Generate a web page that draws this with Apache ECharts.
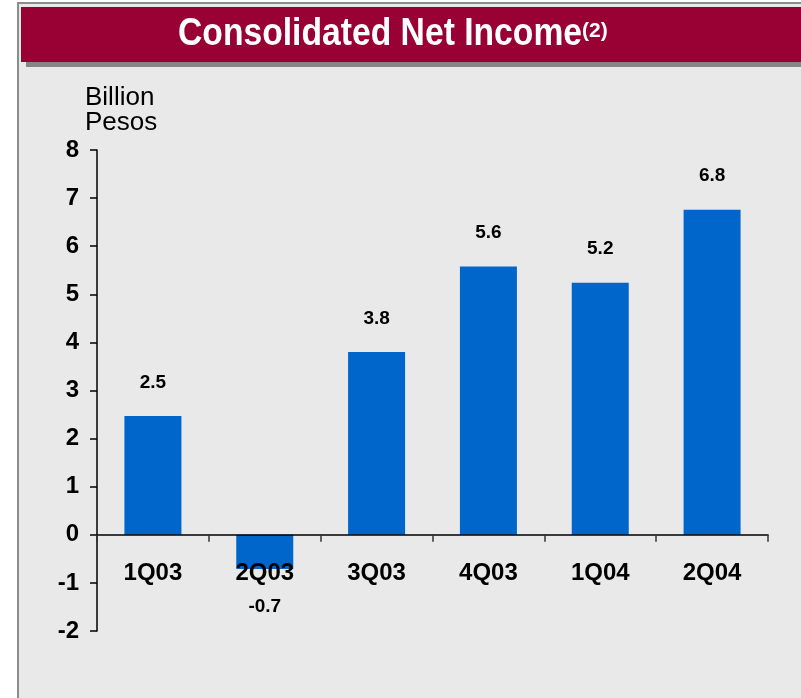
<!DOCTYPE html>
<html>
<head>
<meta charset="utf-8">
<script src="https://cdn.jsdelivr.net/npm/echarts@6/dist/echarts.min.js"></script>
<style>
html,body{margin:0;padding:0;background:#ffffff;}
#chart{width:801px;height:698px;}
</style>
</head>
<body>
<div id="chart"></div>
<script>
var categories = ['1Q03', '2Q03', '3Q03', '4Q03', '1Q04', '2Q04'];
var netIncome = [2.47, -0.71, 3.80, 5.58, 5.24, 6.76];
var valueLabels = ['2.5', '-0.7', '3.8', '5.6', '5.2', '6.8'];
var yTicks = ['-2', '-1', '0', '1', '2', '3', '4', '5', '6', '7', '8'];
var titleText = 'Consolidated Net Income';
var titleNote = '(2)';
var unitText = 'Billion\nPesos';

var FONT = '"Liberation Sans", Arial, sans-serif';
var chart = echarts.init(document.getElementById('chart'), null, {renderer: 'canvas'});

var barData = netIncome.map(function (v, i) {
  return {
    value: v,
    label: {
      position: v < 0 ? 'bottom' : 'top',
      distance: v < 0 ? 28 : 24,
      formatter: valueLabels[i]
    }
  };
});

var option = {
  backgroundColor: '#ffffff',
  animation: false,
  graphic: [
    {type: 'rect', z: -10, shape: {x: 17, y: 2, width: 800, height: 710}, style: {fill: '#8c8c8c'}},
    {type: 'rect', z: -9, shape: {x: 19, y: 4, width: 800, height: 710}, style: {fill: '#e9e9e9'}},
    {type: 'rect', z: -8, shape: {x: 26, y: 12, width: 790, height: 55}, style: {fill: '#868686'}},
    {type: 'rect', z: -7, shape: {x: 21, y: 7, width: 790, height: 55}, style: {fill: '#990033'}},
    {type: 'text', z: 10, x: 178, y: 35, scaleX: 0.886, scaleY: 1,
      style: {x: 0, y: 0, text: titleText, fill: '#ffffff', font: 'bold 38px ' + FONT, textAlign: 'left', textVerticalAlign: 'middle'}},
    {type: 'text', z: 10, x: 582, y: 31, scaleX: 1, scaleY: 1,
      style: {x: 0, y: 0, text: titleNote, fill: '#ffffff', font: 'bold 21px ' + FONT, textAlign: 'left', textVerticalAlign: 'middle'}},
    {type: 'text', z: 10, left: 85, top: 85, style: {text: unitText, fill: '#000000', font: '26px ' + FONT, lineHeight: 25}}
  ],
  grid: {left: 97, right: 33, top: 150, bottom: 67, containLabel: false},
  xAxis: {
    type: 'category',
    data: categories,
    z: 5,
    axisLine: {show: true, onZero: true, lineStyle: {color: '#000000', width: 1.5}},
    axisTick: {show: true, length: 7, inside: false, alignWithLabel: false, lineStyle: {color: '#333333', width: 1.5}},
    axisLabel: {margin: -70, color: '#000000', fontFamily: FONT, fontWeight: 'bold', fontSize: 24},
    splitLine: {show: false}
  },
  yAxis: {
    type: 'value',
    min: -2,
    max: 8,
    interval: 1,
    axisLine: {show: true, lineStyle: {color: '#000000', width: 1.5}},
    axisTick: {show: true, length: 7, lineStyle: {color: '#000000', width: 1.5}},
    axisLabel: {
      margin: 18, color: '#000000', fontFamily: FONT, fontWeight: 'bold', fontSize: 24,
      formatter: function (v) { return yTicks[Math.round(v) + 2]; }
    },
    splitLine: {show: false}
  },
  series: [{
    type: 'bar',
    data: barData,
    barWidth: 57,
    itemStyle: {color: '#0066cc'},
    label: {show: true, color: '#000000', fontFamily: FONT, fontWeight: 'bold', fontSize: 19}
  }]
};
chart.setOption(option);
</script>
</body>
</html>
